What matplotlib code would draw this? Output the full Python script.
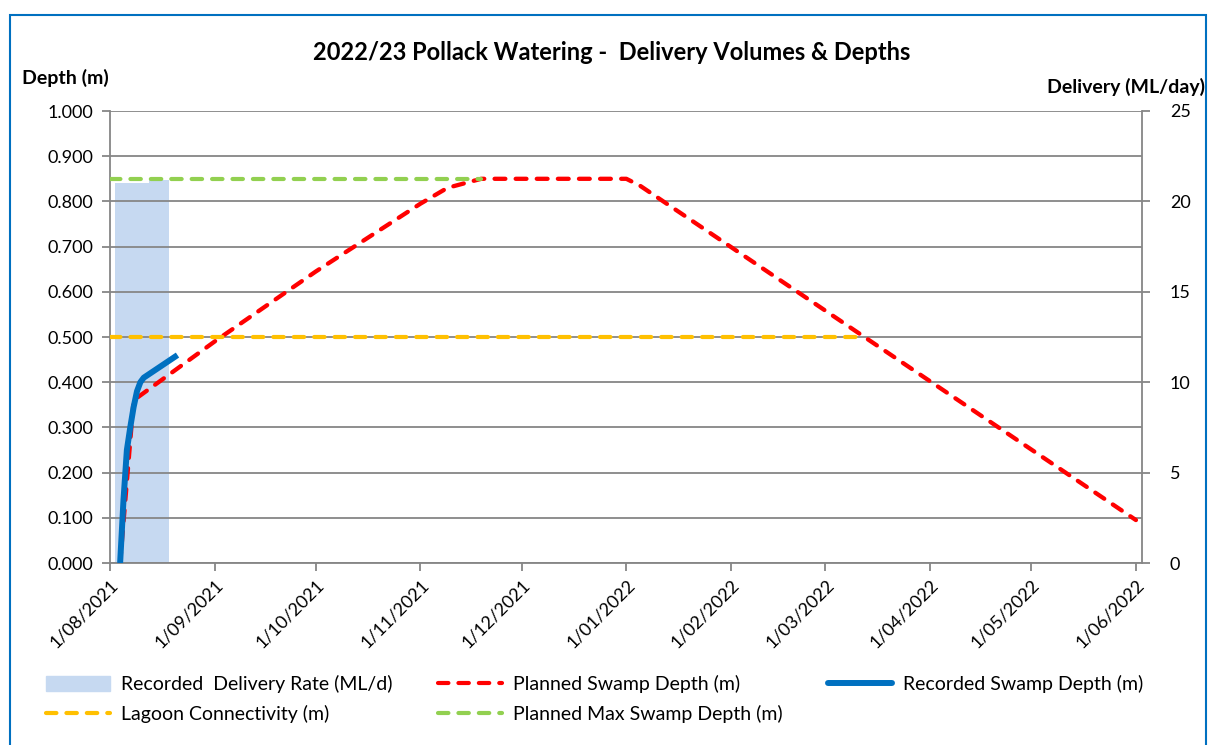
import matplotlib
matplotlib.use("Agg")
import matplotlib.pyplot as plt
import matplotlib.dates as mdates
import matplotlib.patches as mpatches
from matplotlib.lines import Line2D
import numpy as np
import pandas as pd

plt.rcParams['font.family'] = ['Lato', 'DejaVu Sans']

# recorded delivery rate (ML/day), one bar per day
delivery_dates = pd.date_range('2021-08-03', '2021-08-18', freq='D')
delivery_rate = [21.0] * 10 + [21.2] * 6

# recorded swamp depth (m)
recorded_dates = pd.date_range('2021-08-04', '2021-08-21', freq='D')
recorded_depth = [0.0, 0.14, 0.25, 0.30, 0.345, 0.38, 0.40, 0.41, 0.415,
                  0.42, 0.425, 0.43, 0.435, 0.44, 0.445, 0.45, 0.455, 0.46]

# planned swamp depth (m)
planned_dates = pd.to_datetime(['2021-08-04', '2021-08-08', '2021-09-01', '2021-10-01',
                                '2021-11-01', '2021-11-09', '2021-11-19', '2022-01-01',
                                '2022-01-05', '2022-06-01'])
planned_depth = [0.0, 0.36, 0.49, 0.645, 0.795, 0.83, 0.85, 0.85, 0.835, 0.095]

# lagoon connectivity and planned max depth (m)
lagoon_dates = pd.to_datetime(['2021-08-01', '2022-03-12'])
lagoon_depth = [0.5, 0.5]
maxdepth_dates = pd.to_datetime(['2021-08-01', '2021-11-19'])
maxdepth_depth = [0.85, 0.85]

month_ticks = pd.date_range('2021-08-01', '2022-06-01', freq='MS')
tick_labels = [f"{d.day}/{d.month:02d}/{d.year}" for d in month_ticks]

grey = '#868686'
c_bar = '#C6D9F1'
c_red = '#FF0000'
c_blue = '#0070C0'
c_orange = '#FFC000'
c_green = '#92D050'

fig = plt.figure(figsize=(12.08, 7.45), dpi=100)
ax = fig.add_axes([110 / 1208, 1 - 563 / 745, 1032 / 1208, 452 / 745])
ax2 = ax.twinx()
ax.set_zorder(ax2.get_zorder() + 1)
ax.patch.set_visible(False)

ax2.bar(delivery_dates, delivery_rate, width=1.0, color=c_bar, linewidth=0)

dash = dict(linestyle=(0, (2.5, 2.4)), dash_capstyle='round')
ax.plot(planned_dates, planned_depth, color=c_red, lw=3.1, zorder=3, **dash)
ax.plot(recorded_dates, recorded_depth, color=c_blue, lw=4.3, zorder=4,
        solid_capstyle='butt', solid_joinstyle='round')
ax.plot(lagoon_dates, lagoon_depth, color=c_orange, lw=3.0, zorder=5, **dash)
ax.plot(maxdepth_dates, maxdepth_depth, color=c_green, lw=3.0, zorder=6, **dash)

x0 = mdates.date2num(pd.Timestamp('2021-08-01'))
ax.set_xlim(x0, x0 + 305.8)
ax.set_ylim(0, 1.0)
ax2.set_ylim(0, 25)

ax.set_yticks(np.arange(0, 1.01, 0.1))
ax.set_yticklabels([f"{v:.3f}" for v in np.arange(0, 1.01, 0.1)])
ax2.set_yticks(range(0, 26, 5))
ax.set_xticks(mdates.date2num(month_ticks))
ax.set_xticklabels(tick_labels, rotation=45, ha='right', va='top',
                   rotation_mode='anchor')

ax.grid(axis='y', color=grey, lw=1.3)
ax.set_axisbelow(False)
for a in (ax, ax2):
    for s in a.spines.values():
        s.set_visible(False)
ax.spines['left'].set_visible(True)
ax.spines['bottom'].set_visible(True)
ax2.spines['right'].set_visible(True)
for s in (ax.spines['left'], ax.spines['bottom'], ax2.spines['right']):
    s.set_color(grey)
    s.set_linewidth(1.3)

ax.tick_params(axis='y', length=6, width=1.3, color=grey, labelsize=13, pad=6)
ax.tick_params(axis='x', length=6, width=1.3, color=grey, labelsize=13, pad=4)
ax2.tick_params(axis='y', length=6, width=1.3, color=grey, labelsize=13, pad=14)

fig.text(612 / 1208, 1 - 52 / 745, '2022/23 Pollack Watering -  Delivery Volumes & Depths',
         ha='center', va='center', fontsize=17, fontweight='bold')
fig.text(22 / 1208, 1 - 78 / 745, 'Depth (m)', ha='left', va='center',
         fontsize=14, fontweight='bold')
fig.text(1205 / 1208, 1 - 87 / 745, 'Delivery (ML/day)', ha='right', va='center',
         fontsize=14, fontweight='bold')

# chart border
fig.patches.append(mpatches.Rectangle((10 / 1208, -0.1), 1196 / 1208, 1.1 - 15 / 745,
                                      transform=fig.transFigure, fill=False,
                                      edgecolor=c_blue, lw=1.5))

h_bar = mpatches.Patch(color=c_bar)
def dline(c):
    return Line2D([], [], color=c, lw=3.0, **dash)
h_blue = Line2D([], [], color=c_blue, lw=4.3, solid_capstyle='round')

leg_kw = dict(frameon=False, fontsize=14, handlelength=3.3, handletextpad=0.55,
              labelspacing=0.6, borderaxespad=0, borderpad=0, loc='upper left',
              handleheight=0.85)
fig.legend([h_bar, dline(c_orange)],
           ['Recorded  Delivery Rate (ML/d)', 'Lagoon Connectivity (m)'],
           bbox_to_anchor=(46 / 1208, 1 - 675 / 745), **leg_kw)
fig.legend([dline(c_red), dline(c_green)],
           ['Planned Swamp Depth (m)', 'Planned Max Swamp Depth (m)'],
           bbox_to_anchor=(438 / 1208, 1 - 675 / 745), **leg_kw)
fig.legend([h_blue], ['Recorded Swamp Depth (m)'],
           bbox_to_anchor=(828 / 1208, 1 - 675 / 745), **leg_kw)

fig.savefig('out.png', dpi=100)
